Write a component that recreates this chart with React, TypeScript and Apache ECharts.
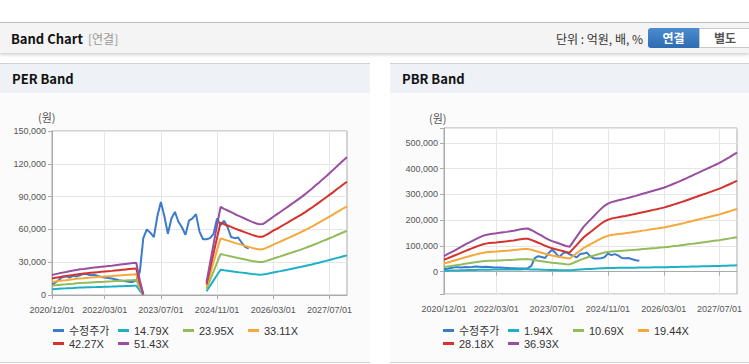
import React, { useEffect, useRef } from "react";
import * as echarts from "echarts";

// ---- data ----
const START_YEAR = 2020;
const START_MONTH = 12;
const MONTH_COUNT = 85; // 2020/12 .. 2027/12
const months: string[] = [];
for (let i = 0; i < MONTH_COUNT; i++) {
  const m0 = START_MONTH - 1 + i;
  const y = START_YEAR + Math.floor(m0 / 12);
  const m = (m0 % 12) + 1;
  months.push(`${y}/${m < 10 ? "0" + m : m}/01`);
}
const tickLabels = ["2020/12/01", "2022/03/01", "2023/07/01", "2024/11/01", "2026/03/01", "2027/07/01"];

// 수정주가 (원)
const price: (number | null)[] = [
  9500, 11500, 14000, 16500, 17000, 16000, 17500, 17000, 18000, 19500,
  19000, 18000, 18500, 17500, 16500, 16000, 15500, 15000, 14500, 13500,
  13000, 12500, 12000, 12000, 13500, 21000, 52000, 60000, 57000, 53000,
  72000, 85000, 72000, 56000, 70000, 76000, 67000, 62000, 55000, 68000,
  70000, 74000, 58000, 51000, 51000, 52000, 56000, 70000, 64000, 68000,
  62000, 53000, 52000, 52500, 48000, 44000, 42500,
];

// EPS (원) behind the PER band
const eps: (number | null)[] = [
  356, 371, 385, 398, 410, 423, 434, 446, 457, 464,
  472, 480, 487, 494, 501, 508, 515, 522, 530, 538,
  546, 553, 560, 567, 574, 262, 12,
  null, null, null, null, null, null, null, null, null, null,
  null, null, null, null, null, null, null,
  230, 565, 905, 1240, 1565, 1532, 1503, 1474, 1441, 1412,
  1384, 1356, 1327, 1301, 1276, 1258, 1262, 1302, 1345, 1391,
  1433, 1476, 1520, 1563, 1608, 1651, 1696, 1741, 1789, 1842,
  1889, 1946, 1998, 2056, 2109, 2166, 2221, 2282, 2338, 2396, 2450,
];

// BPS (원) behind the PBR band
const bps: number[] = [
  1640, 1830, 2020, 2220, 2420, 2620, 2830, 3020, 3210, 3400,
  3580, 3740, 3860, 3940, 3990, 4030, 4080, 4130, 4180, 4240,
  4300, 4380, 4450, 4520, 4540, 4380, 4180, 3980, 3780, 3560,
  3370, 3210, 3090, 2960, 2830, 2700, 2610, 3130, 3660, 4180,
  4700, 5100, 5470, 5850, 6230, 6600, 6920, 7150, 7310, 7410,
  7500, 7590, 7680, 7780, 7870, 7970, 8080, 8190, 8290, 8400,
  8510, 8610, 8720, 8820, 8970, 9110, 9270, 9420, 9580, 9740,
  9910, 10080, 10250, 10420, 10590, 10760, 10930, 11100, 11270, 11440,
  11650, 11870, 12080, 12300, 12520,
];

const perMultiples = [14.79, 23.95, 33.11, 42.27, 51.43];
const pbrMultiples = [1.94, 10.69, 19.44, 28.18, 36.93];
const priceName = "수정주가";

const PRICE_COLOR = "#3c7bcb";
const BAND_COLORS = ["#1eb0c5", "#93bb5a", "#f5a83b", "#d3322d", "#984f9f"];
const FONT = '"Liberation Sans", Arial, "Noto Sans CJK KR", sans-serif';
const KFONT = '"Noto Sans CJK KR", "Liberation Sans", sans-serif';

const fmt = (v: number) => String(v).replace(/\B(?=(\d{3})+(?!\d))/g, ",");
const showTick = (idx: number) => tickLabels.indexOf(months[idx]) >= 0;

function bandSeries(base: (number | null)[], mults: number[], axis: number) {
  return mults.map((m, k) => ({
    name: `${m.toFixed(2)}X`,
    type: "line",
    xAxisIndex: axis,
    yAxisIndex: axis,
    showSymbol: false,
    symbol: "none",
    data: base.map((b) => (b == null ? null : Math.round(b * m))),
    lineStyle: { color: BAND_COLORS[k], width: 2 },
    itemStyle: { color: BAND_COLORS[k] },
    emphasis: { disabled: true },
  }));
}

function priceSeries(axis: number) {
  return {
    name: priceName,
    type: "line",
    xAxisIndex: axis,
    yAxisIndex: axis,
    showSymbol: false,
    symbol: "none",
    data: price,
    lineStyle: { color: PRICE_COLOR, width: 2 },
    itemStyle: { color: PRICE_COLOR },
    emphasis: { disabled: true },
  };
}

function xAxisFor(g: number) {
  return {
    type: "category",
    gridIndex: g,
    data: months,
    boundaryGap: false,
    axisLine: { lineStyle: { color: "#aaa" } },
    axisTick: { show: true, interval: showTick, length: 4, lineStyle: { color: "#aaa" } },
    axisLabel: { interval: showTick, color: "#555", fontSize: 9, margin: 10, fontFamily: FONT },
    splitLine: { show: true, interval: showTick, lineStyle: { color: "#e6e6e6" } },
  };
}

function legendFor(left: number, names: string[]) {
  return {
    left,
    top: 324,
    width: 262,
    orient: "horizontal",
    padding: 0,
    itemGap: 0,
    itemWidth: 11,
    itemHeight: 3,
    icon: "rect",
    data: names,
    textStyle: { fontSize: 11, color: "#333", width: 49, lineHeight: 13, fontFamily: FONT },
  };
}

const textBase = (size: number, weight: string | number, color: string): React.CSSProperties => ({
  fontFamily: KFONT,
  fontSize: size,
  fontWeight: weight as any,
  color,
});

export default function App() {
  const ref = useRef<HTMLDivElement>(null);
  useEffect(() => {
    if (!ref.current) return;
    const chart = echarts.init(ref.current, null, { renderer: "svg", width: 749, height: 364 });
    const perNames = [priceName, ...perMultiples.map((m) => `${m.toFixed(2)}X`)];
    const pbrNames = [priceName, ...pbrMultiples.map((m) => `${m.toFixed(2)}X`)];
    chart.setOption({
      animation: false,
      textStyle: { fontFamily: FONT },
      grid: [
        { left: 52, top: 131, width: 295, height: 164, show: true, borderColor: "#aaa", borderWidth: 1, backgroundColor: "#fff" },
        { left: 444, top: 128, width: 293, height: 166, show: true, borderColor: "#aaa", borderWidth: 1, backgroundColor: "#fff" },
      ],
      xAxis: [xAxisFor(0), xAxisFor(1)],
      yAxis: [
        {
          type: "value",
          gridIndex: 0,
          min: 0,
          max: 150000,
          interval: 30000,
          axisLine: { show: true, lineStyle: { color: "#aaa" } },
          axisTick: { show: true, length: 4, lineStyle: { color: "#aaa" } },
          axisLabel: { color: "#555", fontSize: 9, margin: 6, fontFamily: FONT, formatter: (v: number) => fmt(v) },
          splitLine: { lineStyle: { color: "#e6e6e6" } },
        },
        {
          type: "value",
          gridIndex: 1,
          min: -87000,
          max: 558000,
          splitNumber: 5,
          axisLine: { show: true, lineStyle: { color: "#aaa" } },
          axisTick: { show: true, length: 4, lineStyle: { color: "#aaa" } },
          axisLabel: {
            color: "#555",
            fontSize: 9,
            margin: 6,
            fontFamily: FONT,
            formatter: (v: number) => (v % 100000 === 0 ? fmt(v) : ""),
          },
          splitLine: { lineStyle: { color: "#e6e6e6" } },
        },
      ],
      legend: [legendFor(53, perNames), legendFor(443, pbrNames)],
      graphic: [
        { type: "text", left: 38, top: 111, style: { text: "(원)", fontSize: 11, fill: "#555", fontFamily: KFONT } },
        { type: "text", left: 429, top: 112, style: { text: "(원)", fontSize: 11, fill: "#555", fontFamily: KFONT } },
      ],
      series: [
        priceSeries(0),
        ...bandSeries(eps, perMultiples, 0),
        priceSeries(1),
        ...bandSeries(bps, pbrMultiples, 1),
      ],
    });
    return () => chart.dispose();
  }, []);

  const panel = (left: number, width: number, title: string) => (
    <div
      style={{
        position: "absolute",
        left,
        top: 63,
        width,
        height: 298,
        borderTop: "1px solid #d2d2d2",
        borderBottom: "1px solid #d2d2d2",
        background: "#fbfbfb",
      }}
    >
      <div
        style={{
          ...textBase(13, "bold", "#111"),
          height: 29,
          background: "#eef1f6",
          lineHeight: "30px",
          paddingLeft: 12,
        }}
      >
        {title}
      </div>
    </div>
  );

  return (
    <div style={{ position: "fixed", left: 0, top: 0, width: 749, height: 364, overflow: "hidden", background: "#fff" }}>
      <div
        style={{
          position: "absolute",
          left: 0,
          top: 22,
          width: 749,
          height: 30,
          background: "#f4f4f4",
          borderTop: "1px solid #bcbcbc",
          boxShadow: "0 2px 3px rgba(0,0,0,0.18)",
          zIndex: 2,
        }}
      >
        <span style={{ ...textBase(13, "bold", "#111"), position: "absolute", left: 11, top: 0, lineHeight: "31px" }}>
          Band Chart
        </span>
        <span style={{ ...textBase(12, "normal", "#999"), position: "absolute", left: 88, top: 0, lineHeight: "31px" }}>
          [연결]
        </span>
        <span
          style={{
            ...textBase(12, "normal", "#333"),
            position: "absolute",
            right: 749 - 643,
            top: 0,
            lineHeight: "31px",
            whiteSpace: "nowrap",
          }}
        >
          단위 : 억원, 배, %
        </span>
        <div
          style={{
            ...textBase(12, "bold", "#fff"),
            position: "absolute",
            left: 648,
            top: 5,
            width: 51,
            height: 20,
            background: "linear-gradient(#4b8bd0, #2d6cb1)",
            borderRadius: "3px 0 0 3px",
            lineHeight: "20px",
            textAlign: "center",
          }}
        >
          연결
        </div>
        <div
          style={{
            ...textBase(12, "bold", "#555"),
            position: "absolute",
            left: 699,
            top: 5,
            width: 50,
            height: 18,
            background: "#fff",
            border: "1px solid #c8c8c8",
            lineHeight: "18px",
            textAlign: "center",
          }}
        >
          별도
        </div>
      </div>
      {panel(0, 370, "PER Band")}
      {panel(390, 359, "PBR Band")}
      <div ref={ref} style={{ position: "absolute", left: 0, top: 0, width: 749, height: 364 }} />
    </div>
  );
}
